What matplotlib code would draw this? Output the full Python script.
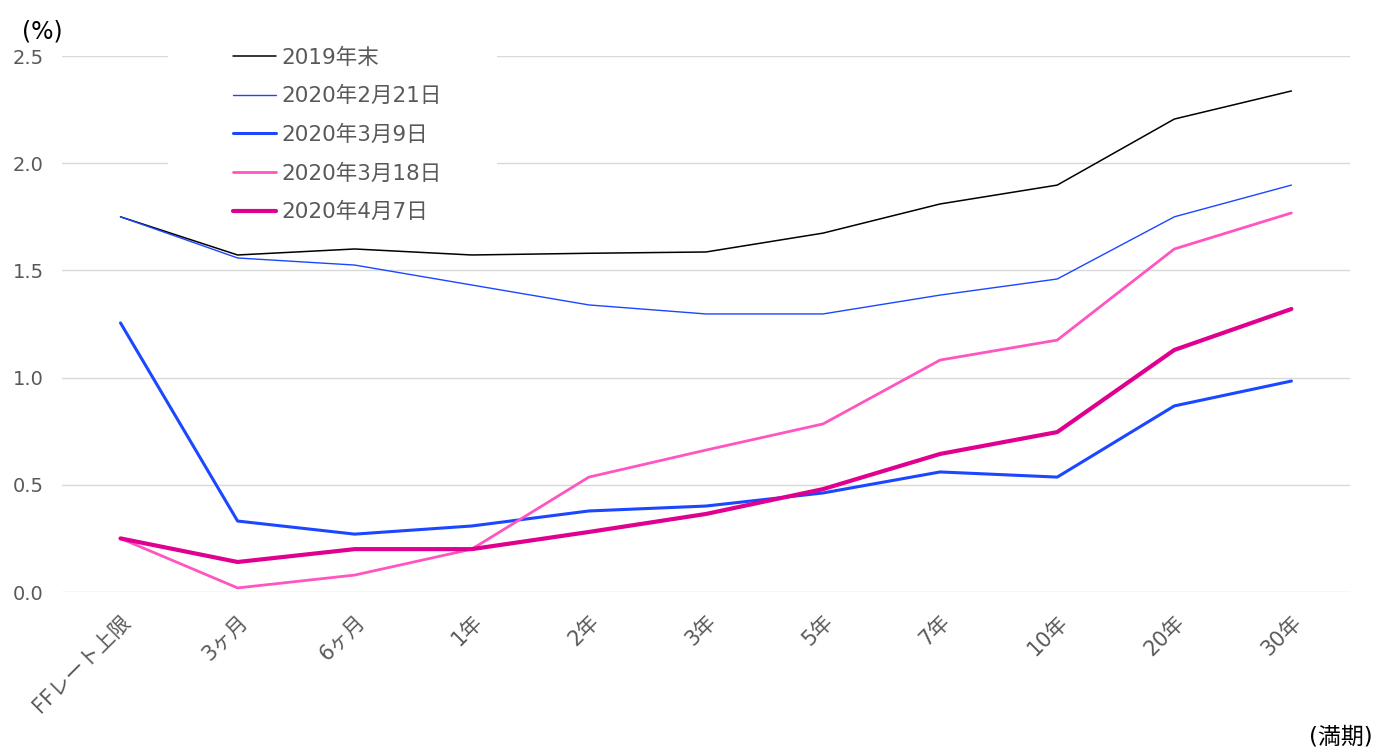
import matplotlib
matplotlib.use("Agg")
import matplotlib.pyplot as plt
from matplotlib.patches import Rectangle

plt.rcParams['font.family'] = ['DejaVu Sans', 'Noto Sans CJK JP']

categories = ["FFレート上限", "3ヶ月", "6ヶ月", "1年", "2年", "3年", "5年", "7年", "10年", "20年", "30年"]
s2019_end = [1.75, 1.572, 1.60, 1.572, 1.58, 1.586, 1.674, 1.81, 1.898, 2.206, 2.337]
s2020_0221 = [1.75, 1.558, 1.525, 1.432, 1.339, 1.297, 1.297, 1.385, 1.46, 1.75, 1.898]
s2020_0309 = [1.255, 0.331, 0.27, 0.308, 0.378, 0.401, 0.462, 0.56, 0.536, 0.868, 0.984]
s2020_0318 = [0.25, 0.019, 0.079, 0.20, 0.536, 0.662, 0.784, 1.082, 1.175, 1.60, 1.768]
s2020_0407 = [0.25, 0.14, 0.20, 0.20, 0.28, 0.364, 0.48, 0.644, 0.746, 1.129, 1.32]
labels = ["2019年末", "2020年2月21日", "2020年3月9日", "2020年3月18日", "2020年4月7日"]
yticks = [0.0, 0.5, 1.0, 1.5, 2.0, 2.5]

fig = plt.figure(figsize=(13.74, 7.49), dpi=100)
ax = fig.add_axes([0.0451, 0.2096, 0.9374, 0.7156])

x = list(range(len(categories)))
series = [s2019_end, s2020_0221, s2020_0309, s2020_0318, s2020_0407]
colors = ["#000000", "#1a47ff", "#1a47ff", "#ff55c0", "#e0008f"]
widths = [1.1, 1.0, 2.2, 2.0, 3.0]
for s, c, w, l in zip(series, colors, widths, labels):
    ax.plot(x, s, color=c, lw=w, label=l, solid_capstyle='round', solid_joinstyle='round', zorder=3)

ax.set_xlim(-0.5, len(categories) - 0.5)
ax.set_ylim(0, 2.5)
ax.set_yticks(yticks)
ax.set_yticklabels([f"{v:.1f}" for v in yticks])
ax.set_xticks(x)
ax.set_xticklabels(categories, rotation=45, ha='right', rotation_mode='anchor')
ax.grid(axis='y', color='#d9d9d9', lw=1.0)
ax.set_axisbelow(True)
for sp in ax.spines.values():
    sp.set_visible(False)
ax.tick_params(axis='both', length=0, colors='#595959')
ax.tick_params(axis='y', labelsize=14, pad=13)
ax.tick_params(axis='x', labelsize=15, pad=14)

# white background behind legend (covers gridlines)
ax.add_patch(Rectangle((0.0823, 0.675), 0.2554, 0.36, transform=ax.transAxes,
                       facecolor='white', edgecolor='none', zorder=1, clip_on=False))

leg = ax.legend(loc='upper left', bbox_to_anchor=(0.1328, 1.016), frameon=False, fontsize=15.5,
                handlelength=2.0, handletextpad=0.25, labelspacing=0.85, borderpad=0,
                borderaxespad=0)
for t in leg.get_texts():
    t.set_color('#595959')

fig.text(22/1374, 1 - 31/749, "(%)", fontsize=17, color='#000000', va='center', ha='left')
fig.text(1373/1374, 1 - 737/749, "(満期)", fontsize=16.5, color='#000000', va='center', ha='right')

fig.savefig("out.png", dpi=100)
